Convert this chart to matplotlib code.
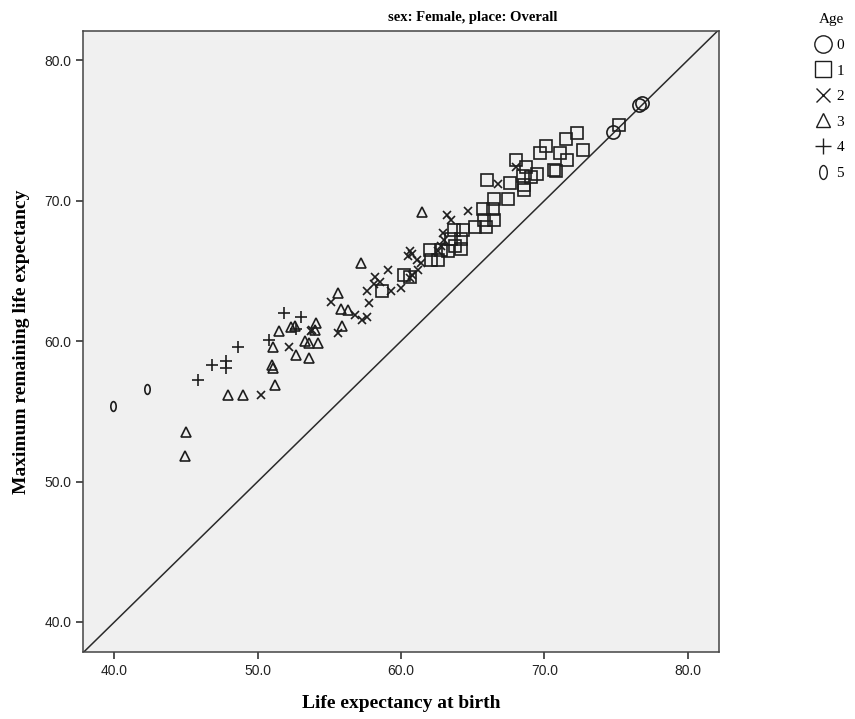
import numpy as np
import matplotlib
matplotlib.use("Agg")
import matplotlib.pyplot as plt
from matplotlib.path import Path
from matplotlib.transforms import Affine2D
from matplotlib.lines import Line2D

# Data: (life expectancy at birth, max remaining life expectancy)
age0_x = [76.6, 76.8, 74.8]
age0_y = [76.8, 77.0, 74.9]

age1_x = [58.7, 60.2, 60.6, 62.0, 62.1, 62.6, 62.8, 63.3, 63.7, 64.3, 63.5, 64.2,
          63.8, 64.2, 65.2, 65.9, 65.8, 66.5, 65.7, 66.4, 66.5, 67.5, 66.0, 67.6,
          68.6, 68.6, 68.5, 69.1, 69.5, 68.7, 68.0, 70.7, 70.8, 69.7, 71.1, 71.6,
          70.1, 71.5, 72.3, 72.7, 75.2]
age1_y = [63.6, 64.7, 64.6, 66.5, 65.8, 65.8, 66.5, 66.4, 67.9, 67.9, 67.3, 67.3,
          66.8, 66.6, 68.1, 68.1, 68.6, 68.6, 69.4, 69.4, 70.1, 70.1, 71.5, 71.3,
          71.1, 70.8, 71.8, 71.7, 71.9, 72.4, 72.9, 72.2, 72.1, 73.4, 73.4, 72.9,
          73.9, 74.4, 74.8, 73.6, 75.4]

age2_x = [50.2, 52.2, 53.7, 53.8, 55.1, 55.6, 56.8, 57.3, 57.6, 57.6, 57.8, 58.2,
          58.5, 58.1, 59.1, 59.3, 60.0, 60.6, 60.8, 60.5, 61.1, 61.4, 61.2, 60.8,
          60.6, 62.8, 62.6, 62.9, 63.0, 63.2, 63.5, 64.7, 66.8, 68.0]
age2_y = [56.2, 59.6, 60.7, 60.8, 62.8, 60.6, 61.9, 61.5, 63.6, 61.7, 62.7, 64.6,
          64.2, 64.1, 65.1, 63.6, 63.8, 66.4, 66.2, 66.1, 65.8, 65.6, 65.1, 64.7,
          64.5, 66.8, 66.4, 67.7, 67.2, 69.0, 68.6, 69.3, 71.2, 72.4]

age3_x = [45.0, 44.9, 47.9, 49.0, 51.2, 51.0, 51.1, 51.1, 51.5, 52.3, 52.6, 52.7,
          53.3, 53.6, 54.2, 53.6, 54.1, 54.0, 55.6, 55.8, 56.3, 55.9, 57.2, 61.5]
age3_y = [53.5, 51.8, 56.2, 56.2, 56.9, 58.3, 58.1, 59.6, 60.7, 61.0, 61.1, 59.0,
          60.0, 59.9, 59.9, 58.8, 61.3, 60.8, 63.4, 62.3, 62.2, 61.1, 65.6, 69.2]

age4_x = [45.8, 46.8, 47.8, 47.8, 48.6, 50.8, 51.8, 53.0, 52.7]
age4_y = [57.2, 58.3, 58.6, 58.1, 59.6, 60.1, 62.0, 61.7, 60.9]

age5_x = [39.9, 42.3]
age5_y = [55.4, 56.6]

ages = ["0", "1", "2", "3", "4", "5"]

# narrow ellipse marker for age 5
ellipse = Path.unit_circle().transformed(Affine2D().scale(0.55, 1.0))

ink = "#1e1e1e"
styles = [
    dict(marker="o", ms=9.5, lg=12.5),
    dict(marker="s", ms=8.0, lg=12.0),
    dict(marker="x", ms=6.0, lg=9.5),
    dict(marker="^", ms=6.5, lg=10.5),
    dict(marker="+", ms=8.5, lg=12.0),
    dict(marker=ellipse, ms=7.0, lg=10.0),
]
series = [(age0_x, age0_y), (age1_x, age1_y), (age2_x, age2_y),
          (age3_x, age3_y), (age4_x, age4_y), (age5_x, age5_y)]

fig = plt.figure(figsize=(8.55, 7.19), dpi=100)
ax = fig.add_axes([0.097, 0.093, 0.744, 0.864])
ax.set_facecolor("#f0f0f0")

xlo, xhi = 37.8, 82.2
ylo, yhi = 37.85, 82.1
ax.set_xlim(xlo, xhi)
ax.set_ylim(ylo, yhi)

# reference line y = x
ax.plot([30, 90], [30, 90], color="#2a2a2a", lw=1.1, zorder=2)

handles = []
for (xs, ys), st, lab in zip(series, styles, ages):
    ax.plot(xs, ys, linestyle="none", marker=st["marker"], ms=st["ms"],
            mfc="none", mec=ink, mew=1.2, zorder=3)
    handles.append(Line2D([], [], linestyle="none", marker=st["marker"],
                          ms=st["lg"], mfc="none", mec=ink, mew=1.0,
                          label=lab))

ticks = [40, 50, 60, 70, 80]
ax.set_xticks(ticks)
ax.set_yticks(ticks)
ax.set_xticklabels([f"{t:.1f}" for t in ticks])
ax.set_yticklabels([f"{t:.1f}" for t in ticks])
ax.tick_params(direction="out", length=5, width=1.2, color="#333333",
               labelsize=10, labelcolor="#222222")
for lbl in ax.get_xticklabels() + ax.get_yticklabels():
    lbl.set_family(["Liberation Sans Narrow", "Liberation Sans", "DejaVu Sans"])
for sp in ax.spines.values():
    sp.set_color("#444444")
    sp.set_linewidth(1.1)

serif = ["Liberation Serif", "DejaVu Serif"]
ax.set_xlabel("Life expectancy at birth", family=serif, fontsize=14,
              fontweight="bold", labelpad=12)
ax.set_ylabel("Maximum remaining life expectancy", family=serif, fontsize=14,
              fontweight="bold", labelpad=10)
fig.text(0.553, 0.975, "sex: Female, place: Overall", family=serif,
         fontsize=10.5, fontweight="bold", ha="center", va="center")

leg = fig.legend(handles=handles, title="Age", loc="upper left",
                 bbox_to_anchor=(0.946, 0.992), frameon=False,
                 handlelength=0.9, handletextpad=0.4, labelspacing=0.78,
                 borderpad=0.0, fontsize=11)
leg.get_title().set_family(serif)
leg.get_title().set_fontsize(11)
leg._legend_box.align = "right"
for t in leg.get_texts():
    t.set_family(serif)

fig.savefig("out.png", dpi=100)
